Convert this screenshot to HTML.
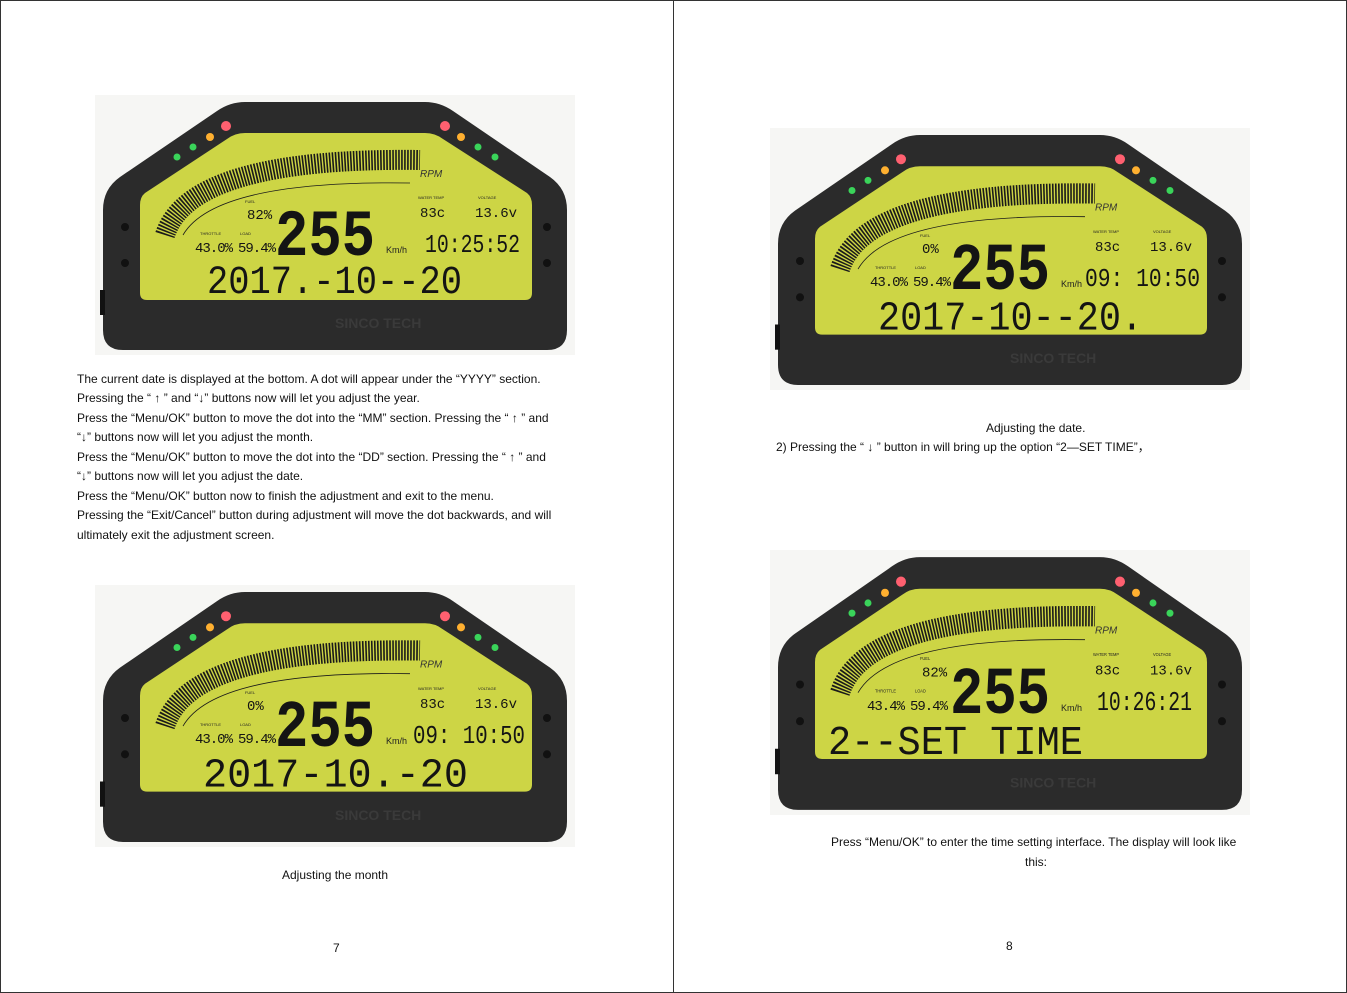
<!DOCTYPE html>
<html><head><meta charset="utf-8"><style>
body{margin:0;width:1347px;height:993px;background:#fff;position:relative;overflow:hidden;font-family:"Liberation Sans","DejaVu Sans",sans-serif;color:#111}
.pg{position:absolute;top:0;height:991px;border:1px solid #333}
.t{position:absolute;font-size:12px;white-space:nowrap;line-height:14px}
svg.d{position:absolute}
</style></head><body>
<div class="pg" style="left:0;width:672px"></div>
<div class="pg" style="left:673px;width:672px"></div>

<svg style="position:absolute;width:0;height:0;overflow:hidden" width="0" height="0"><defs>
<g id="base">
<rect x="0" y="0" width="480" height="260" fill="#f6f6f4"/>
<path d="M150 7 L330 7 Q345 7 358 16 L455 82 Q472 94 472 115 L472 235 Q472 255 452 255 L28 255 Q8 255 8 235 L8 115 Q8 94 25 82 L122 16 Q135 7 150 7 Z" fill="#2b2b2b"/>
<path d="M150 38 L330 38 Q340 38 348 44 L432 98 Q437 102 437 110 L437 198 Q437 205 430 205 L52 205 Q45 205 45 198 L45 110 Q45 102 50 98 L132 44 Q140 38 150 38 Z" fill="#cdd545"/>
<circle cx="82" cy="62" r="3.5" fill="#3ad45a"/><circle cx="98" cy="52" r="3.5" fill="#3ad45a"/><circle cx="115" cy="42" r="4" fill="#ffb030"/><circle cx="131" cy="31" r="5" fill="#ff6070"/>
<circle cx="350" cy="31" r="5" fill="#ff6070"/><circle cx="366" cy="42" r="4" fill="#ffb030"/><circle cx="383" cy="52" r="3.5" fill="#3ad45a"/><circle cx="400" cy="62" r="3.5" fill="#3ad45a"/>
<circle cx="30" cy="132" r="4" fill="#111"/><circle cx="30" cy="168" r="4" fill="#111"/><circle cx="452" cy="132" r="4" fill="#111"/><circle cx="452" cy="168" r="4" fill="#111"/>
<rect x="5" y="195" width="5" height="25" fill="#111"/>
<path d="M70 140 Q95 62 325 65" fill="none" stroke="#1a1a1a" stroke-width="20" stroke-dasharray="1.6 1.4"/>
<path d="M88 140 Q120 85 315 88" fill="none" stroke="#1a1a1a" stroke-width="0.8"/>
<text x="325" y="82" font-size="10" font-style="italic" fill="#333">RPM</text>
<text x="291" y="158" font-size="9" fill="#222">Km/h</text>
<text x="240" y="233" font-size="14" fill="#3a3a3a" font-weight="bold">SINCO TECH</text>
<text x="150" y="108" font-size="4" fill="#222">FUEL</text>
<text x="105" y="140" font-size="4" fill="#222">THROTTLE</text>
<text x="145" y="140" font-size="4" fill="#222">LOAD</text>
<text x="323" y="104" font-size="4" fill="#222">WATER TEMP</text>
<text x="383" y="104" font-size="4" fill="#222">VOLTAGE</text>
</g></defs></svg>

<!-- dash 1 -->
<svg class="d" style="left:95px;top:95px" width="480" height="260" viewBox="0 0 480 260"><use href="#base"/>
<g font-family="Liberation Mono,monospace" fill="#141414">
<text x="152" y="124" font-size="14">82%</text>
<text x="180" y="160" font-size="66" font-weight="bold" textLength="100" lengthAdjust="spacingAndGlyphs">255</text>
<text x="325" y="122" font-size="14">83c</text><text x="380" y="122" font-size="14">13.6v</text>
<text x="100" y="157" font-size="14" textLength="38">43.0%</text><text x="143" y="157" font-size="14" textLength="38">59.4%</text>
<text x="330" y="157" font-size="26" textLength="95" lengthAdjust="spacingAndGlyphs">10:25:52</text>
<text x="112" y="198" font-size="40" textLength="255" lengthAdjust="spacingAndGlyphs">2017.-10--20</text>
</g></svg>

<!-- dash 2 -->
<svg class="d" style="left:770px;top:128px" width="480" height="262" viewBox="0 0 480 260" preserveAspectRatio="none"><use href="#base"/>
<g font-family="Liberation Mono,monospace" fill="#141414">
<text x="152" y="124" font-size="14">0%</text>
<text x="180" y="160" font-size="66" font-weight="bold" textLength="100" lengthAdjust="spacingAndGlyphs">255</text>
<text x="325" y="122" font-size="14">83c</text><text x="380" y="122" font-size="14">13.6v</text>
<text x="100" y="157" font-size="14" textLength="38">43.0%</text><text x="143" y="157" font-size="14" textLength="38">59.4%</text>
<text x="315" y="157" font-size="26" textLength="115" lengthAdjust="spacingAndGlyphs">09: 10:50</text>
<text x="108" y="200" font-size="40" textLength="265" lengthAdjust="spacingAndGlyphs">2017-10--20.</text>
</g></svg>

<!-- dash 3 -->
<svg class="d" style="left:95px;top:585px" width="480" height="262" viewBox="0 0 480 260" preserveAspectRatio="none"><use href="#base"/>
<g font-family="Liberation Mono,monospace" fill="#141414">
<text x="152" y="124" font-size="14">0%</text>
<text x="180" y="160" font-size="66" font-weight="bold" textLength="100" lengthAdjust="spacingAndGlyphs">255</text>
<text x="325" y="122" font-size="14">83c</text><text x="380" y="122" font-size="14">13.6v</text>
<text x="100" y="157" font-size="14" textLength="38">43.0%</text><text x="143" y="157" font-size="14" textLength="38">59.4%</text>
<text x="318" y="157" font-size="26" textLength="112" lengthAdjust="spacingAndGlyphs">09: 10:50</text>
<text x="108" y="200" font-size="40" textLength="265" lengthAdjust="spacingAndGlyphs">2017-10.-20</text>
</g></svg>

<!-- dash 4 -->
<svg class="d" style="left:770px;top:550px" width="480" height="265" viewBox="0 0 480 260" preserveAspectRatio="none"><use href="#base"/>
<g font-family="Liberation Mono,monospace" fill="#141414">
<text x="152" y="124" font-size="14">82%</text>
<text x="180" y="160" font-size="66" font-weight="bold" textLength="100" lengthAdjust="spacingAndGlyphs">255</text>
<text x="325" y="122" font-size="14">83c</text><text x="380" y="122" font-size="14">13.6v</text>
<text x="97" y="157" font-size="14" textLength="38">43.4%</text><text x="140" y="157" font-size="14" textLength="38">59.4%</text>
<text x="327" y="157" font-size="26" textLength="95" lengthAdjust="spacingAndGlyphs">10:26:21</text>
<text x="58" y="200" font-size="40" textLength="255" lengthAdjust="spacingAndGlyphs">2--SET TIME</text>
</g></svg>

<div class="t" style="left:77px;top:372px">The current date is displayed at the bottom. A dot will appear under the “YYYY” section.</div>
<div class="t" style="left:77px;top:391px">Pressing the “ ↑ ” and “↓” buttons now will let you adjust the year.</div>
<div class="t" style="left:77px;top:411px">Press the “Menu/OK” button to move the dot into the “MM” section. Pressing the “ ↑ ” and</div>
<div class="t" style="left:77px;top:430px">“↓” buttons now will let you adjust the month.</div>
<div class="t" style="left:77px;top:450px">Press the “Menu/OK” button to move the dot into the “DD” section. Pressing the “ ↑ ” and</div>
<div class="t" style="left:77px;top:469px">“↓” buttons now will let you adjust the date.</div>
<div class="t" style="left:77px;top:489px">Press the “Menu/OK” button now to finish the adjustment and exit to the menu.</div>
<div class="t" style="left:77px;top:508px">Pressing the “Exit/Cancel” button during adjustment will move the dot backwards, and will</div>
<div class="t" style="left:77px;top:528px">ultimately exit the adjustment screen.</div>
<div class="t" style="left:282px;top:868px">Adjusting the month</div>
<div class="t" style="left:333px;top:941px">7</div>

<div class="t" style="left:986px;top:421px">Adjusting the date.</div>
<div class="t" style="left:776px;top:440px">2) Pressing the “ ↓ ” button in will bring up the option “2—SET TIME”，</div>
<div class="t" style="left:831px;top:835px">Press “Menu/OK” to enter the time setting interface. The display will look like</div>
<div class="t" style="left:1025px;top:855px">this:</div>
<div class="t" style="left:1006px;top:939px">8</div>
</body></html>
